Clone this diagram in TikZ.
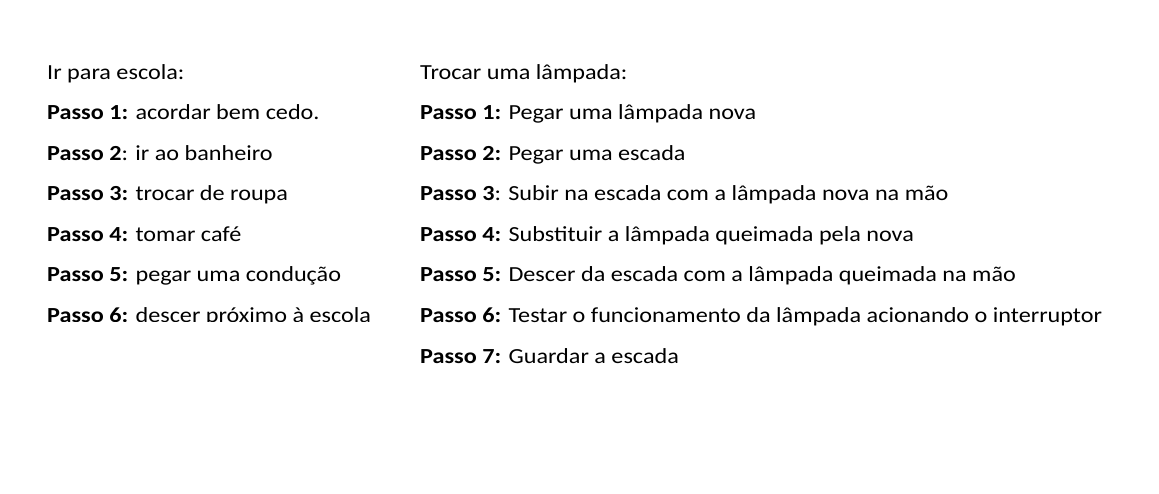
\documentclass[tikz,border=0pt]{standalone}
\usepackage{fontspec}
\setmainfont{Carlito}
\begin{document}
\begin{tikzpicture}[x=1pt,y=-1pt,
  line/.style={anchor=base west,inner sep=0pt,xscale=1.125,transform shape,font=\fontsize{21.5}{26}\selectfont}]
\useasboundingbox[fill=white] (0,0) rectangle (1159,493);
\begin{scope}
\clip (0,0) rectangle (405,321.3);
\node[line] (l0) at (47,79) {Ir para escola:};
\node[line] (l1) at (47,119) {\textbf{Passo 1:} acordar bem cedo.};
\node[line] (l2) at (47,160) {\textbf{Passo 2}: ir ao banheiro};
\node[line] (l3) at (47,200) {\textbf{Passo 3:} trocar de roupa};
\node[line] (l4) at (47,241) {\textbf{Passo 4:} tomar café};
\node[line] (l5) at (47,281) {\textbf{Passo 5:} pegar uma condução};
\node[line] (l6) at (47,322) {\textbf{Passo 6:} descer próximo à escola};
\end{scope}
\node[line] (r0) at (420,79) {Trocar uma lâmpada:};
\node[line] (r1) at (420,119) {\textbf{Passo 1:} Pegar uma lâmpada nova};
\node[line] (r2) at (420,160) {\textbf{Passo 2:} Pegar uma escada};
\node[line] (r3) at (420,200) {\textbf{Passo 3}: Subir na escada com a lâmpada nova na mão};
\node[line] (r4) at (420,241) {\textbf{Passo 4:} Substituir a lâmpada queimada pela nova};
\node[line] (r5) at (420,281) {\textbf{Passo 5:} Descer da escada com a lâmpada queimada na mão};
\node[line] (r6) at (420,322) {\textbf{Passo 6:} Testar o funcionamento da lâmpada acionando o interruptor};
\node[line] (r7) at (420,363) {\textbf{Passo 7:} Guardar a escada};
\end{tikzpicture}
\end{document}
